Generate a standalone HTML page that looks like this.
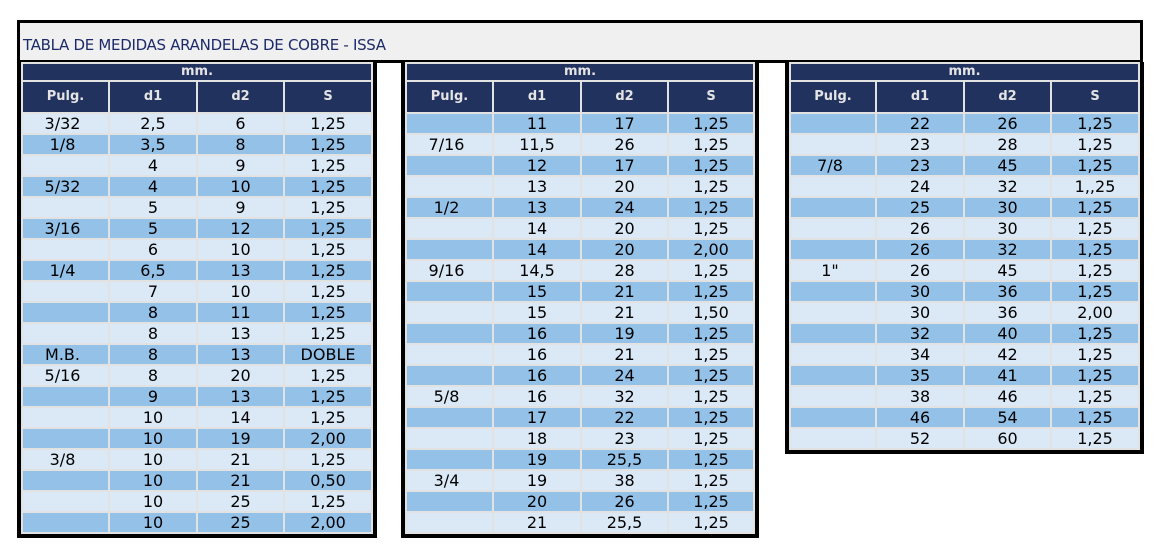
<!DOCTYPE html>
<html><head><meta charset="utf-8"><style>
body{margin:0;width:1165px;height:557px;background:#fff;position:relative;overflow:hidden;font-family:"DejaVu Sans","Liberation Sans",sans-serif}
.title{position:absolute;left:17px;top:20px;width:1117px;height:37px;border:3px solid #000;background:#f0f0f0;color:#1c2a6a;font-size:15px;line-height:44px;padding-left:3px;letter-spacing:-0.3px}
table{position:absolute;top:62px;border:4px solid #000;border-top:0;background:#e2e2e2;border-spacing:2px;table-layout:fixed;border-collapse:separate}
td{padding:0;height:19px;line-height:19px;font-size:16px;text-align:center;color:#000;overflow:hidden;white-space:nowrap}
td.p{padding-right:6px}
tr.m td{background:#22325f;color:#e4e4e4;font-weight:bold;font-size:13px;height:16px;line-height:16px}
tr.h td{background:#22325f;color:#e4e4e4;font-weight:bold;font-size:13px;height:28px;line-height:30px}
tr.l td{background:#dbe9f6}
tr.d td{background:#93c1e8}
#t1{left:17px;width:356px}
#t2{left:401px;width:354px}
#t3{left:785px;width:355px}
</style></head><body>
<div class="title">TABLA DE MEDIDAS ARANDELAS DE COBRE - ISSA</div>

<table id="t1"><colgroup><col style="width:85px"><col style="width:86px"><col style="width:85px"><col style="width:86px"></colgroup>
<tr class="m"><td colspan="4">mm.</td></tr>
<tr class="h"><td>Pulg.</td><td>d1</td><td>d2</td><td>S</td></tr>
<tr class="l"><td class="p">3/32</td><td>2,5</td><td>6</td><td>1,25</td></tr>
<tr class="d"><td class="p">1/8</td><td>3,5</td><td>8</td><td>1,25</td></tr>
<tr class="l"><td class="p"></td><td>4</td><td>9</td><td>1,25</td></tr>
<tr class="d"><td class="p">5/32</td><td>4</td><td>10</td><td>1,25</td></tr>
<tr class="l"><td class="p"></td><td>5</td><td>9</td><td>1,25</td></tr>
<tr class="d"><td class="p">3/16</td><td>5</td><td>12</td><td>1,25</td></tr>
<tr class="l"><td class="p"></td><td>6</td><td>10</td><td>1,25</td></tr>
<tr class="d"><td class="p">1/4</td><td>6,5</td><td>13</td><td>1,25</td></tr>
<tr class="l"><td class="p"></td><td>7</td><td>10</td><td>1,25</td></tr>
<tr class="d"><td class="p"></td><td>8</td><td>11</td><td>1,25</td></tr>
<tr class="l"><td class="p"></td><td>8</td><td>13</td><td>1,25</td></tr>
<tr class="d"><td class="p">M.B.</td><td>8</td><td>13</td><td>DOBLE</td></tr>
<tr class="l"><td class="p">5/16</td><td>8</td><td>20</td><td>1,25</td></tr>
<tr class="d"><td class="p"></td><td>9</td><td>13</td><td>1,25</td></tr>
<tr class="l"><td class="p"></td><td>10</td><td>14</td><td>1,25</td></tr>
<tr class="d"><td class="p"></td><td>10</td><td>19</td><td>2,00</td></tr>
<tr class="l"><td class="p">3/8</td><td>10</td><td>21</td><td>1,25</td></tr>
<tr class="d"><td class="p"></td><td>10</td><td>21</td><td>0,50</td></tr>
<tr class="l"><td class="p"></td><td>10</td><td>25</td><td>1,25</td></tr>
<tr class="d"><td class="p"></td><td>10</td><td>25</td><td>2,00</td></tr>
</table>

<table id="t2"><colgroup><col style="width:85px"><col style="width:86px"><col style="width:85px"><col style="width:84px"></colgroup>
<tr class="m"><td colspan="4">mm.</td></tr>
<tr class="h"><td>Pulg.</td><td>d1</td><td>d2</td><td>S</td></tr>
<tr class="d"><td class="p"></td><td>11</td><td>17</td><td>1,25</td></tr>
<tr class="l"><td class="p">7/16</td><td>11,5</td><td>26</td><td>1,25</td></tr>
<tr class="d"><td class="p"></td><td>12</td><td>17</td><td>1,25</td></tr>
<tr class="l"><td class="p"></td><td>13</td><td>20</td><td>1,25</td></tr>
<tr class="d"><td class="p">1/2</td><td>13</td><td>24</td><td>1,25</td></tr>
<tr class="l"><td class="p"></td><td>14</td><td>20</td><td>1,25</td></tr>
<tr class="d"><td class="p"></td><td>14</td><td>20</td><td>2,00</td></tr>
<tr class="l"><td class="p">9/16</td><td>14,5</td><td>28</td><td>1,25</td></tr>
<tr class="d"><td class="p"></td><td>15</td><td>21</td><td>1,25</td></tr>
<tr class="l"><td class="p"></td><td>15</td><td>21</td><td>1,50</td></tr>
<tr class="d"><td class="p"></td><td>16</td><td>19</td><td>1,25</td></tr>
<tr class="l"><td class="p"></td><td>16</td><td>21</td><td>1,25</td></tr>
<tr class="d"><td class="p"></td><td>16</td><td>24</td><td>1,25</td></tr>
<tr class="l"><td class="p">5/8</td><td>16</td><td>32</td><td>1,25</td></tr>
<tr class="d"><td class="p"></td><td>17</td><td>22</td><td>1,25</td></tr>
<tr class="l"><td class="p"></td><td>18</td><td>23</td><td>1,25</td></tr>
<tr class="d"><td class="p"></td><td>19</td><td>25,5</td><td>1,25</td></tr>
<tr class="l"><td class="p">3/4</td><td>19</td><td>38</td><td>1,25</td></tr>
<tr class="d"><td class="p"></td><td>20</td><td>26</td><td>1,25</td></tr>
<tr class="l"><td class="p"></td><td>21</td><td>25,5</td><td>1,25</td></tr>
</table>

<table id="t3"><colgroup><col style="width:84px"><col style="width:86px"><col style="width:85px"><col style="width:86px"></colgroup>
<tr class="m"><td colspan="4">mm.</td></tr>
<tr class="h"><td>Pulg.</td><td>d1</td><td>d2</td><td>S</td></tr>
<tr class="d"><td class="p"></td><td>22</td><td>26</td><td>1,25</td></tr>
<tr class="l"><td class="p"></td><td>23</td><td>28</td><td>1,25</td></tr>
<tr class="d"><td class="p">7/8</td><td>23</td><td>45</td><td>1,25</td></tr>
<tr class="l"><td class="p"></td><td>24</td><td>32</td><td>1,,25</td></tr>
<tr class="d"><td class="p"></td><td>25</td><td>30</td><td>1,25</td></tr>
<tr class="l"><td class="p"></td><td>26</td><td>30</td><td>1,25</td></tr>
<tr class="d"><td class="p"></td><td>26</td><td>32</td><td>1,25</td></tr>
<tr class="l"><td class="p">1"</td><td>26</td><td>45</td><td>1,25</td></tr>
<tr class="d"><td class="p"></td><td>30</td><td>36</td><td>1,25</td></tr>
<tr class="l"><td class="p"></td><td>30</td><td>36</td><td>2,00</td></tr>
<tr class="d"><td class="p"></td><td>32</td><td>40</td><td>1,25</td></tr>
<tr class="l"><td class="p"></td><td>34</td><td>42</td><td>1,25</td></tr>
<tr class="d"><td class="p"></td><td>35</td><td>41</td><td>1,25</td></tr>
<tr class="l"><td class="p"></td><td>38</td><td>46</td><td>1,25</td></tr>
<tr class="d"><td class="p"></td><td>46</td><td>54</td><td>1,25</td></tr>
<tr class="l"><td class="p"></td><td>52</td><td>60</td><td>1,25</td></tr>
</table>
</body></html>
